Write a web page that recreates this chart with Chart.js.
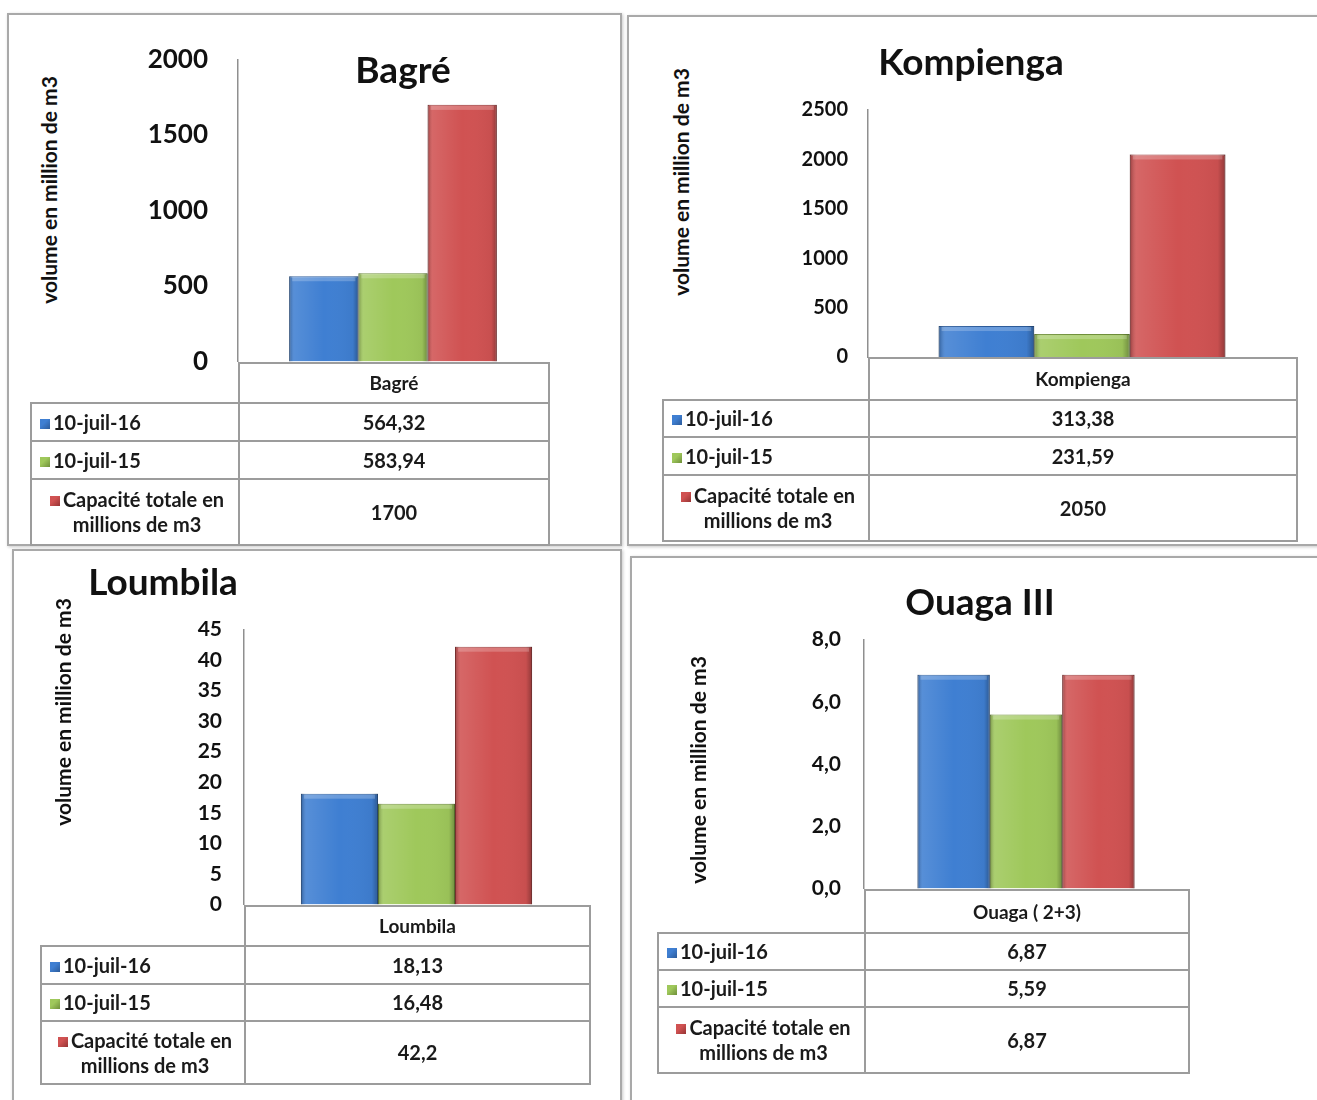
<!DOCTYPE html>
<html>
<head>
<meta charset="utf-8">
<script src="https://cdn.jsdelivr.net/npm/chart.js@4.4.0/dist/chart.umd.min.js"></script>
<style>
body { margin: 0; background: #fff; font-family: Lato, "Open Sans", sans-serif; }
#page { position: relative; width: 1317px; height: 1100px; overflow: hidden; background: #fff; }
.panel { position: absolute; box-sizing: border-box; border: 2px solid #a9a9a9; box-shadow: 1px 1px 3px #c8c8c8; }
.titre { position: absolute; font-weight: bold; font-size: 37px; color: #111; transform: translate(-50%, -50%); white-space: nowrap; }
.ytitre { position: absolute; font-weight: bold; font-size: 21px; color: #111; transform: translate(-50%, -50%) rotate(-90deg); white-space: nowrap; }
canvas { position: absolute; }
table.dt { position: absolute; border-collapse: collapse; table-layout: fixed; font-weight: bold; font-size: 20px; color: #1a1a1a; }
table.dt td { border: 2px solid #9c9c9c; padding: 0; text-align: center; line-height: 1.25; }
table.dt td.vide { border: none; }
table.dt td.cat { font-size: 19px; }
table.dt td.serie { text-align: left; padding-left: 8px; }
table.dt td.serie.long { text-align: center; padding-left: 4px; }
.carre { display: inline-block; width: 10px; height: 10px; margin-right: 3px; vertical-align: 1px; }
</style>
</head>
<body>
<div id="page"></div>
<script>
// données
const titres = ['Bagré', 'Kompienga', 'Loumbila', 'Ouaga III'];
const barrages = ['Bagré', 'Kompienga', 'Loumbila', 'Ouaga ( 2+3)'];
const series = ['10-juil-16', '10-juil-15', 'Capacité totale en millions de m3'];
const volume2016 = [564.32, 313.38, 18.13, 6.87];
const volume2015 = [583.94, 231.59, 16.48, 5.59];
const capaciteTotale = [1700, 2050, 42.2, 6.87];
const axeMax = [2000, 2500, 45, 8];
const axePas = [500, 500, 5, 2];
const axeDecimales = [0, 0, 0, 1];
const titreAxe = 'volume en million de m3';

const couleurs = ['#3f7fd2', '#9fc85b', '#d05252'];
const bordures = ['#2c5b9a', '#6f8f3a', '#963434'];

// mise en page de chaque panneau
const panneaux = [
    { box: [7, 13, 615, 533], axeX: 238, haut: 60, zero: 362, droite: 548, gauche: 30, lignes: [40, 38, 38, 66], tick: 26, pad: 30, titre: [403, 68], ytitre: [48, 190] },
    { box: [627, 15, 692, 531], axeX: 868, haut: 110, zero: 357, droite: 1296, gauche: 662, lignes: [42, 37, 38, 66], tick: 20, pad: 20, titre: [971, 60], ytitre: [680, 182] },
    { box: [12, 549, 610, 560], axeX: 244, haut: 630, zero: 905, droite: 589, gauche: 40, lignes: [40, 38, 37, 63], tick: 21, pad: 22, titre: [163, 580], ytitre: [62, 712] },
    { box: [630, 556, 690, 550], axeX: 864, haut: 640, zero: 889, droite: 1188, gauche: 657, lignes: [43, 37, 37, 66], tick: 21, pad: 23, titre: [980, 600], ytitre: [697, 770] }
];

const page = document.getElementById('page');

// léger effet de relief sur les barres, à partir des positions calculées par Chart.js
const biseau = {
    id: 'biseau',
    afterDatasetsDraw(chart) {
        const ctx = chart.ctx;
        chart.data.datasets.forEach((ds, k) => {
            chart.getDatasetMeta(k).data.forEach(bar => {
                const { x, y, base, width } = bar.getProps(['x', 'y', 'base', 'width'], true);
                const l = x - width / 2;
                const g = ctx.createLinearGradient(l, 0, l + width, 0);
                g.addColorStop(0, 'rgba(0,0,0,0.28)');
                g.addColorStop(0.07, 'rgba(255,255,255,0.12)');
                g.addColorStop(0.5, 'rgba(255,255,255,0)');
                g.addColorStop(0.92, 'rgba(0,0,0,0.04)');
                g.addColorStop(1, 'rgba(0,0,0,0.3)');
                ctx.save();
                ctx.fillStyle = g;
                ctx.fillRect(l, y, width, base - y);
                ctx.fillStyle = 'rgba(255,255,255,0.22)';
                ctx.fillRect(l + 3, y + 1, width - 6, 4);
                ctx.restore();
            });
        });
    }
};

function nombre(v) {
    return String(v).replace('.', ',');
}

function div(cls, x, y, texte) {
    let d = document.createElement('div');
    d.className = cls;
    d.style.left = x + 'px';
    d.style.top = y + 'px';
    d.textContent = texte;
    page.appendChild(d);
    return d;
}

function construireTableau(i, p) {
    let valeurs = [volume2016[i], volume2015[i], capaciteTotale[i]];
    let t = document.createElement('table');
    t.className = 'dt';
    t.style.left = p.gauche + 'px';
    t.style.top = p.zero + 'px';
    t.style.width = (p.droite - p.gauche) + 'px';
    let cg = document.createElement('colgroup');
    cg.innerHTML = `<col style="width:${p.axeX - p.gauche}px"><col style="width:${p.droite - p.axeX}px">`;
    t.appendChild(cg);
    let tr = document.createElement('tr');
    tr.style.height = p.lignes[0] + 'px';
    tr.innerHTML = `<td class="vide"></td><td class="cat">${barrages[i]}</td>`;
    t.appendChild(tr);
    series.forEach((s, k) => {
        let r = document.createElement('tr');
        r.style.height = p.lignes[k + 1] + 'px';
        let carre = `<span class="carre" style="background:linear-gradient(135deg, ${couleurs[k]} 40%, ${bordures[k]})"></span>`;
        let texte = k === 2 ? 'Capacité totale en<br>millions de m3' : s;
        r.innerHTML = `<td class="serie${k === 2 ? ' long' : ''}">${carre}${texte}</td><td>${nombre(valeurs[k])}</td>`;
        t.appendChild(r);
    });
    page.appendChild(t);
}

function config(i, p, largeurEchelle) {
    let donnees = [volume2016[i], volume2015[i], capaciteTotale[i]];
    return {
        type: 'bar',
        data: {
            labels: [barrages[i]],
            datasets: series.map((s, k) => ({
                label: s,
                data: [donnees[k]],
                backgroundColor: couleurs[k],
                borderColor: bordures[k],
                borderWidth: 1
            }))
        },
        options: {
            responsive: false,
            maintainAspectRatio: false,
            animation: false,
            layout: { padding: 0 },
            datasets: { bar: { categoryPercentage: 0.67, barPercentage: 1 } },
            plugins: { legend: { display: false }, tooltip: { enabled: false } },
            scales: {
                x: { display: false },
                y: {
                    min: 0,
                    max: axeMax[i],
                    afterFit: (s) => { s.width = largeurEchelle; },
                    ticks: {
                        stepSize: axePas[i],
                        autoSkip: false,
                        padding: p.pad,
                        color: '#111',
                        font: { family: 'Lato', weight: 'bold', size: p.tick },
                        callback: (v) => Number(v).toFixed(axeDecimales[i]).replace('.', ',')
                    },
                    grid: { display: false, drawTicks: false },
                    border: { display: true, color: '#8f8f8f', width: 1.5 }
                }
            }
        },
        plugins: [biseau]
    };
}

function construireGraphique(i, p) {
    let largeurEchelle = 100;
    let canvas = document.createElement('canvas');
    let w = p.droite - p.axeX + largeurEchelle;
    let h = p.zero - p.haut + 60;
    canvas.width = w;
    canvas.height = h;
    canvas.style.left = (p.axeX - largeurEchelle) + 'px';
    page.appendChild(canvas);

    // premier passage pour mesurer la place prise par les étiquettes
    let essai = new Chart(canvas, config(i, p, largeurEchelle));
    let marHaut = essai.chartArea.top;
    let marBas = h - essai.chartArea.bottom;
    essai.destroy();

    canvas.width = w;
    canvas.height = p.zero - p.haut + marHaut + marBas;
    canvas.style.top = (p.haut - marHaut) + 'px';
    new Chart(canvas, config(i, p, largeurEchelle));
}

panneaux.forEach((p, i) => {
    let cadre = document.createElement('div');
    cadre.className = 'panel';
    cadre.style.left = p.box[0] + 'px';
    cadre.style.top = p.box[1] + 'px';
    cadre.style.width = p.box[2] + 'px';
    cadre.style.height = p.box[3] + 'px';
    page.appendChild(cadre);

    construireGraphique(i, p);
    construireTableau(i, p);
    div('titre', p.titre[0], p.titre[1], titres[i]);
    div('ytitre', p.ytitre[0], p.ytitre[1], titreAxe);
});
</script>
</body>
</html>
